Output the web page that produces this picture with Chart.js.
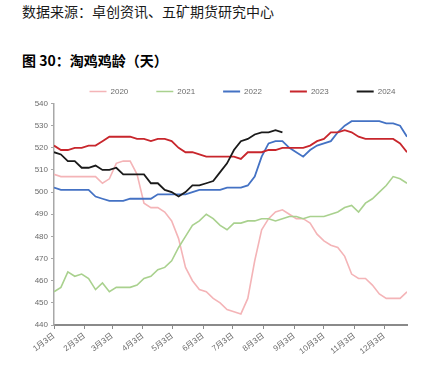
<!DOCTYPE html>
<html>
<head>
<meta charset="utf-8">
<script src="https://cdn.jsdelivr.net/npm/chart.js@4.4.1/dist/chart.umd.min.js"></script>
<style>
  html, body { margin: 0; padding: 0; background: #fff; overflow: hidden; }
  #wrap { position: relative; width: 429px; height: 378px; }
  .txt { position: absolute; left: 22px; font-size: 14px; line-height: 16px; white-space: nowrap;
         font-family: "Noto Sans CJK SC", "Liberation Sans", sans-serif; color: #1a1a1a; }
  #src { top: 3px; }
  #ttl { top: 52px; font-weight: bold; color: #000; }
  #chartBox { position: absolute; left: 0; top: 0; width: 429px; height: 378px; }
</style>
</head>
<body>
<div id="wrap">
  <div class="txt" id="src">数据来源：卓创资讯、五矿期货研究中心</div>
  <div class="txt" id="ttl">图 30：淘鸡鸡龄（天）</div>
  <div id="chartBox"><canvas id="taojiChart" width="429" height="378"></canvas></div>
</div>
<script>
// 年份（图例）
const anos = ["2020", "2021", "2022", "2023", "2024"];

// 刻度：距 1月3日 的天数 与 标签
const diasTick = [0, 31, 59, 90, 120, 151, 181, 212, 243, 273, 304, 334];
const rotulosTick = ["1月3日", "2月3日", "3月3日", "4月3日", "5月3日", "6月3日",
                     "7月3日", "8月3日", "9月3日", "10月3日", "11月3日", "12月3日"];

// 周度淘鸡鸡龄（天）
const idade2020 = [508, 507, 507, 507, 507, 507, 507, 504, 506, 513, 514, 514, 508, 495, 493, 493,
                   491, 487, 479, 466, 460, 456, 455, 452, 450, 447, 446, 445, 452, 469, 483, 488,
                   491, 492, 490, 488, 488, 486, 481, 478, 476, 475, 471, 463, 461, 461, 458, 454,
                   452, 452, 452, 455];
const idade2021 = [455, 457, 464, 462, 463, 461, 456, 459, 455, 457, 457, 457, 458, 461, 462, 465,
                   466, 469, 475, 480, 485, 487, 490, 488, 485, 483, 486, 486, 487, 487, 488, 488,
                   487, 488, 489, 489, 488, 489, 489, 489, 490, 491, 493, 494, 491, 495, 497, 500,
                   503, 507, 506, 504];
const idade2022 = [502, 501, 501, 501, 501, 501, 498, 497, 496, 496, 496, 497, 497, 497, 497, 499,
                   499, 499, 499, 499, 500, 501, 501, 501, 501, 502, 502, 502, 503, 507, 516, 522,
                   523, 523, 520, 518, 516, 519, 521, 522, 523, 527, 530, 532, 532, 532, 532, 532,
                   531, 531, 530, 525];
const idade2023 = [521, 519, 519, 520, 520, 521, 521, 523, 525, 525, 525, 525, 524, 524, 523, 524,
                   524, 523, 520, 518, 518, 517, 516, 516, 516, 516, 516, 515, 518, 518, 518, 519,
                   519, 520, 520, 520, 520, 521, 523, 524, 527, 527, 528, 527, 525, 524, 524, 524,
                   524, 524, 522, 518];
const idade2024 = [518, 517, 514, 514, 511, 511, 512, 510, 510, 511, 508, 508, 508, 508, 504, 504,
                   501, 500, 498, 500, 503, 503, 504, 505, 509, 513, 519, 523, 524, 526, 527, 527,
                   528, 527];

const cores = ["#f4b4b7", "#a9d18e", "#4472c4", "#c8262c", "#1a1a1a"];
const series = [idade2020, idade2021, idade2022, idade2023, idade2024];

const fonteBase = "'Liberation Sans', 'Noto Sans CJK SC', sans-serif";
const corTexto = "#6b6b6b";

// 把图例挪到和原图一致的位置
const ajusteLegenda = {
    id: "ajusteLegenda",
    afterLayout(chart) {
        const lg = chart.legend;
        lg.left += 39; lg.right += 39;
        lg.top += 2; lg.bottom += 2;
    }
};

document.addEventListener("DOMContentLoaded", function() {
    const ctx = document.getElementById("taojiChart").getContext("2d");

    const datasets = series.map((valores, k) => ({
        label: anos[k],
        data: valores.map((v, i) => ({ x: i * 7, y: v })),  // 每周一个点
        borderColor: cores[k],
        backgroundColor: cores[k],
        borderWidth: k < 2 ? 1.6 : 1.8,
        pointRadius: 0,
        tension: 0,
        order: series.length - k   // 2024 画在最上面
    }));

    new Chart(ctx, {
        type: "line",
        data: { datasets: datasets },
        options: {
            responsive: false,
            animation: false,
            layout: { padding: { top: 57.5, right: 22, left: 0, bottom: 0 } },
            plugins: {
                tooltip: { enabled: false },
                legend: {
                    display: true,
                    position: "top",
                    labels: {
                        sort: (a, b) => a.datasetIndex - b.datasetIndex,
                        usePointStyle: true,
                        pointStyle: "line",
                        pointStyleWidth: 17,
                        boxWidth: 17,
                        padding: 28,
                        color: corTexto,
                        font: { size: 8, family: fonteBase }
                    }
                }
            },
            scales: {
                x: {
                    type: "linear",
                    min: 0,
                    max: 357,
                    afterFit: (s) => { s.height = 53; },
                    afterBuildTicks: (s) => { s.ticks = diasTick.map(d => ({ value: d })); },
                    ticks: {
                        autoSkip: false,
                        minRotation: 37,
                        maxRotation: 37,
                        padding: 2,
                        color: corTexto,
                        font: { size: 8, family: fonteBase },
                        callback: (v) => rotulosTick[diasTick.indexOf(v)] || ""
                    },
                    grid: { drawOnChartArea: false, tickLength: 4, color: "#8a8a8a", lineWidth: 1 },
                    border: { display: true, color: "#8a8a8a", width: 2 }
                },
                y: {
                    min: 440,
                    max: 540,
                    afterFit: (s) => { s.width = 54; },
                    ticks: {
                        stepSize: 10,
                        padding: 3,
                        color: corTexto,
                        font: { size: 8, family: fonteBase }
                    },
                    grid: { drawOnChartArea: false, tickLength: 3, color: "#a8a8a8", lineWidth: 1 },
                    border: { display: true, color: "#a8a8a8", width: 1.5 }
                }
            }
        },
        plugins: [ajusteLegenda]
    });
});
</script>
</body>
</html>
